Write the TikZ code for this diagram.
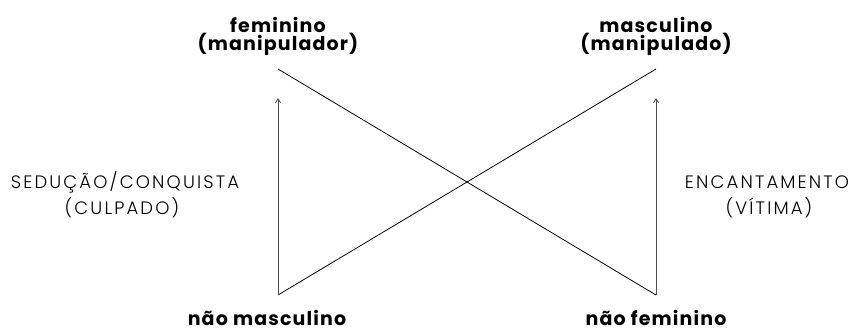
\documentclass[tikz,border=0pt]{standalone}
\usepackage{fontspec}
\setmainfont{Poppins}
\newfontfamily\lightfont{Poppins}[UprightFont=* Light, LetterSpace=12]
\newfontfamily\heavyfont{Poppins}[UprightFont=* Bold, LetterSpace=6]
\usetikzlibrary{arrows.meta}
\tikzset{
  lbl/.style={font=\heavyfont\fontsize{19}{21}\selectfont, inner sep=0pt, anchor=base},
  side/.style={font=\lightfont\fontsize{18}{20}\selectfont, inner sep=0pt, anchor=base},
  ln/.style={line width=0.8pt, black},
  arr/.style={line width=0.8pt, black!70, -{Straight Barb[length=4pt,width=5pt]}}
}
\begin{document}
\begin{tikzpicture}[x=1pt,y=-1pt]
\useasboundingbox (0,0) rectangle (854,327);
\node[lbl] (fem) at (278,32) {feminino};
\node[lbl] (fem2) at (278,50) {(manipulador)};
\node[lbl] (mas) at (656,32) {masculino};
\node[lbl] (mas2) at (656,50) {(manipulado)};
\node[lbl] (nmas) at (267,325) {não masculino};
\node[lbl] (nfem) at (656,325) {não feminino};
\node[side] (sed) at (125,188) {SEDUÇÃO/CONQUISTA};
\node[side] (cul) at (122,214) {(CULPADO)};
\node[side] (enc) at (767,188) {ENCANTAMENTO};
\node[side] (vit) at (769,214) {(VÍTIMA)};
\coordinate (tl) at (278,69);
\coordinate (tr) at (656,69);
\coordinate (bl) at (278,295);
\coordinate (br) at (656,295);
\coordinate (al) at (278,98);
\coordinate (ar) at (656,98);
\draw[ln] (tl) -- (br);
\draw[ln] (tr) -- (bl);
\draw[arr] (bl) -- (al);
\draw[arr] (br) -- (ar);
\end{tikzpicture}
\end{document}
